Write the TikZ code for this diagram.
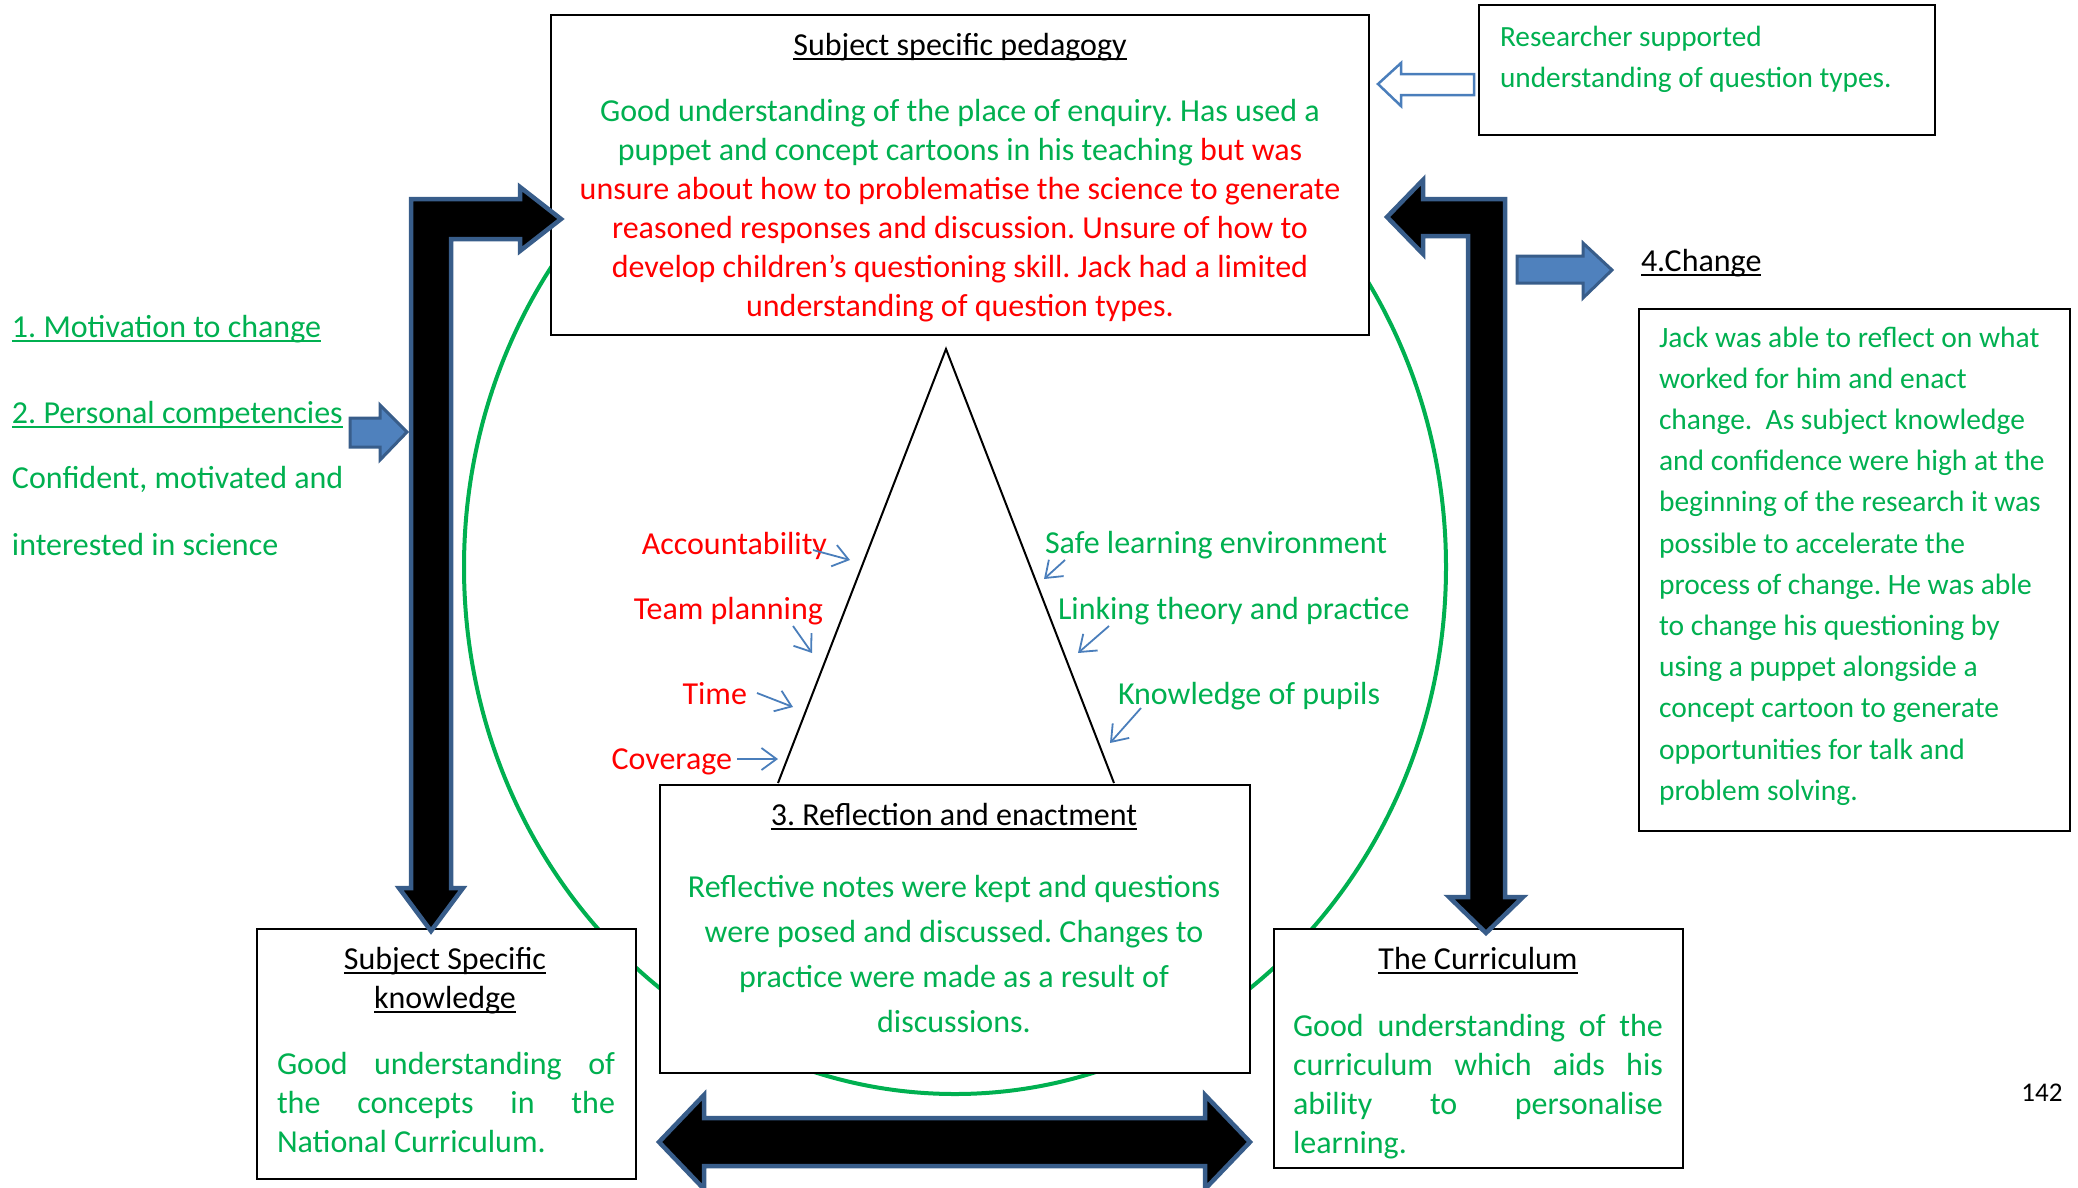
\documentclass[tikz,border=0pt]{standalone}
\usepackage{fontspec}
\setmainfont{Carlito}
\usetikzlibrary{arrows.meta}
\definecolor{tgreen}{HTML}{00B050}
\definecolor{tred}{HTML}{FF0000}
\definecolor{aborder}{HTML}{385D8A}
\definecolor{afill}{HTML}{4F81BD}
\definecolor{thinblue}{HTML}{4A7EBB}
\frenchspacing
\newsavebox{\myulbox}
\newcommand{\myul}[1]{\leavevmode\sbox{\myulbox}{#1}\rlap{\rule[-4.5pt]{\wd\myulbox}{2pt}}\usebox{\myulbox}}
\newcommand{\jl}[2]{\makebox[#1][s]{#2}}
\tikzset{
  every node/.style={inner sep=0pt, outer sep=0pt},
  boxnode/.style={draw=black, line width=2pt, fill=white, anchor=north west},
  bigarrow/.style={fill=black, draw=aborder, line width=4.5pt, line join=miter},
  bluearrow/.style={fill=afill, draw=aborder, line width=3pt, line join=miter},
  hollowarrow/.style={fill=white, draw=thinblue, line width=2.5pt, line join=miter},
  thinarrow/.style={draw=thinblue, line width=1.8pt, -{Straight Barb[length=15pt,width=22pt]}},
  txt/.style={font=\fontsize{32}{39}\selectfont},
}
\begin{document}
\begin{tikzpicture}[x=1pt,y=-1pt]
\useasboundingbox (0,0) rectangle (2078,1187);
\clip (0,0) rectangle (2078,1187);

% green cycle
\coordinate (ctr) at (955,567);
\draw[tgreen, line width=4pt] (ctr) ellipse [x radius=491pt, y radius=527pt];

% triangle
\coordinate (apex) at (946,349);
\coordinate (bl) at (778,783);
\coordinate (br) at (1114,783);
\draw[black, line width=2pt] (bl) -- (apex) -- (br);

% boxes
\node[boxnode, minimum width=818pt, minimum height=320pt] (ssp) at (551,15) {};
\node[boxnode, minimum width=456pt, minimum height=130pt] (res) at (1479,5) {};
\node[boxnode, minimum width=590pt, minimum height=288pt] (ref) at (660,785) {};
\node[boxnode, minimum width=379pt, minimum height=250pt] (ssk) at (257,929) {};
\node[boxnode, minimum width=409pt, minimum height=239pt] (cur) at (1274,929) {};
\node[boxnode, minimum width=431pt, minimum height=522pt] (chg) at (1639,309) {};

% top box text
\node[txt, anchor=base] (ssptitle) at (960,55) {\myul{Subject specific pedagogy}};
\node[anchor=base] (sspbody) at (960,121) {\parbox[t]{800pt}{\centering\fontsize{32}{39}\selectfont\leavevmode
{\color{tgreen}Good understanding of the place of enquiry. Has used a\\
puppet and concept cartoons in his teaching} {\color{tred}but was\\
unsure about how to problematise the science to generate\\
reasoned responses and discussion. Unsure of how to\\
develop children’s questioning skill. Jack had a limited\\
understanding of question types.}}};

% researcher box
\node[anchor=base west] (restext) at (1500,46) {\parbox[t]{430pt}{\raggedright\fontsize{29.3}{41}\selectfont\leavevmode\color{tgreen}%
Researcher supported\\
understanding of question types.}};

% reflection box
\node[txt, anchor=base] (reftitle) at (954,825) {\myul{3. Reflection and enactment}};
\node[anchor=base] (refbody) at (954,897) {\parbox[t]{580pt}{\centering\fontsize{32}{45}\selectfont\leavevmode\color{tgreen}%
Reflective notes were kept and questions\\
were posed and discussed. Changes to\\
practice were made as a result of\\
discussions.}};

% subject specific knowledge
\node[anchor=base] (ssktitle) at (445,969) {\parbox[t]{360pt}{\centering\fontsize{32}{39}\selectfont
\myul{Subject Specific}\\ \myul{knowledge}}};
\node[anchor=base west] (sskbody) at (277,1074) {\parbox[t]{338pt}{\raggedright\fontsize{32}{39}\selectfont\leavevmode\color{tgreen}%
\jl{338pt}{Good understanding of}\\
\jl{338pt}{the concepts in the}\\
National Curriculum.}};

% curriculum
\node[txt, anchor=base] (curtitle) at (1478,969) {\myul{The Curriculum}};
\node[anchor=base west] (curbody) at (1293,1036) {\parbox[t]{370pt}{\raggedright\fontsize{32}{39}\selectfont\leavevmode\color{tgreen}%
\jl{370pt}{Good understanding of the}\\
\jl{370pt}{curriculum which aids his}\\
\jl{370pt}{ability to personalise}\\
learning.}};

% change
\node[txt, anchor=base west] (chgtitle) at (1641,271) {\myul{4.Change}};
\node[anchor=base west] (chgbody) at (1659,347) {\parbox[t]{400pt}{\raggedright\fontsize{29.5}{41.2}\selectfont\leavevmode\color{tgreen}%
Jack was able to reflect on what\\
worked for him and enact\\
change.\ \ As subject knowledge\\
and confidence were high at the\\
beginning of the research it was\\
possible to accelerate the\\
process of change. He was able\\
to change his questioning by\\
using a puppet alongside a\\
concept cartoon to generate\\
opportunities for talk and\\
problem solving.}};

% left texts
\node[txt, anchor=base west, text=tgreen] (mot) at (12,337) {\myul{1. Motivation to change}};
\node[txt, anchor=base west, text=tgreen] (pers) at (12,423) {\myul{2. Personal competencies}};
\node[txt, anchor=base west, text=tgreen] (conf1) at (12,488) {Confident, motivated and};
\node[txt, anchor=base west, text=tgreen] (conf2) at (12,555) {interested in science};

% triangle labels
\node[txt, anchor=base east, text=tred] (acc) at (827,554) {Accountability};
\node[txt, anchor=base east, text=tred] (team) at (823,619) {Team planning};
\node[txt, anchor=base east, text=tred] (time) at (747,704) {Time};
\node[txt, anchor=base east, text=tred] (cov) at (732,769) {Coverage};
\node[txt, anchor=base west, text=tgreen] (safe) at (1045,553) {Safe learning environment};
\node[txt, anchor=base west, text=tgreen] (link) at (1058,619) {Linking theory and practice};
\node[txt, anchor=base west, text=tgreen] (know) at (1118,704) {Knowledge of pupils};

% page number
\node[font=\fontsize{27}{32}\selectfont, anchor=base] (pg) at (2042,1101) {142};

% thin arrows
\coordinate (accS) at (813,550);  \coordinate (accE) at (850,560);
\coordinate (teamS) at (793,626); \coordinate (teamE) at (812,653);
\coordinate (timeS) at (757,693); \coordinate (timeE) at (793,707);
\coordinate (covS) at (737,759);  \coordinate (covE) at (778,759);
\coordinate (safeS) at (1065,560); \coordinate (safeE) at (1044,579);
\coordinate (linkS) at (1109,626); \coordinate (linkE) at (1078,653);
\coordinate (knowS) at (1141,708); \coordinate (knowE) at (1110,743);
\draw[thinarrow] (accS) -- (accE);
\draw[thinarrow] (teamS) -- (teamE);
\draw[thinarrow] (timeS) -- (timeE);
\draw[thinarrow] (covS) -- (covE);
\draw[thinarrow] (safeS) -- (safeE);
\draw[thinarrow] (linkS) -- (linkE);
\draw[thinarrow] (knowS) -- (knowE);

% block arrows
\draw[bigarrow] (411,199) -- (520,199) -- (520,187) -- (561,219) -- (520,251) -- (520,239) -- (451,239) -- (451,888) -- (463,888) -- (431,931) -- (399,888) -- (411,888) -- cycle;
\draw[bigarrow] (1505,199) -- (1423,199) -- (1423,180) -- (1387,217) -- (1423,254) -- (1423,236) -- (1468,236) -- (1468,897) -- (1449,897) -- (1486,933) -- (1523,897) -- (1505,897) -- cycle;
\draw[bigarrow] (704,1118) -- (1205,1118) -- (1205,1095) -- (1250,1142) -- (1205,1189) -- (1205,1166) -- (704,1166) -- (704,1189) -- (659,1142) -- (704,1095) -- cycle;
\draw[bluearrow] (1517,256) -- (1583,256) -- (1583,243) -- (1612,270) -- (1583,298) -- (1583,283) -- (1517,283) -- cycle;
\draw[bluearrow] (350,418) -- (380,418) -- (380,405) -- (407,432) -- (380,460) -- (380,447) -- (350,447) -- cycle;
\draw[hollowarrow] (1474,74) -- (1401,74) -- (1401,63) -- (1378,84) -- (1401,106) -- (1401,95) -- (1474,95) -- cycle;
\end{tikzpicture}
\end{document}
